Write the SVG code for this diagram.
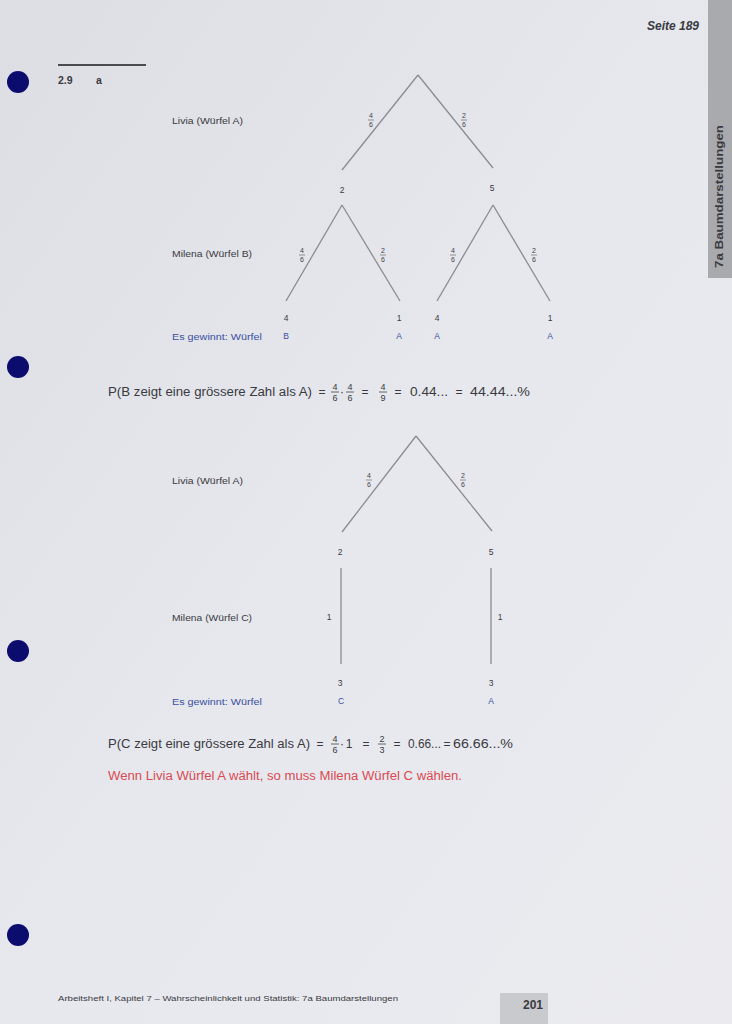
<svg xmlns="http://www.w3.org/2000/svg" width="732" height="1024" viewBox="0 0 732 1024">
<defs>
<linearGradient id="bg" x1="0" y1="0" x2="1" y2="1">
<stop offset="0" stop-color="#dcdee4"/>
<stop offset="0.5" stop-color="#e6e8ee"/>
<stop offset="1" stop-color="#ebebef"/>
</linearGradient>
<style>
.t{font-family:"Liberation Sans",Arial,sans-serif;fill:#3a3a40}
.lab{font-size:8.5px}
.num{font-size:8.5px;text-anchor:middle}
.fr{font-size:7px;text-anchor:middle;fill:#444}
.blue{fill:#3a4fa0}
.eq{font-size:12px;fill:#3a3a40}
.eqf{font-size:9px;text-anchor:middle;fill:#3a3a40}
.red{font-size:12px;fill:#d94a52}
.br{stroke:#8c8c90;stroke-width:1.3;fill:none}
.fb{stroke:#555;stroke-width:0.6}
.fbe{stroke:#444;stroke-width:0.8}
.dot{fill:#0b0c6e}
</style>
</defs>
<rect width="732" height="1024" fill="url(#bg)"/>
<rect x="708" y="0" width="24" height="278" fill="#a9aaad"/>
<rect x="500" y="993" width="48" height="31" fill="#c9cace"/>

<g id="holes">
<circle class="dot" cx="18" cy="82" r="11"/>
<circle class="dot" cx="18" cy="367" r="11"/>
<circle class="dot" cx="18" cy="651" r="11"/>
<circle class="dot" cx="18" cy="935" r="11"/>
</g>

<g id="header">
<text class="t" x="699" y="30" text-anchor="end" font-size="12" font-weight="bold" font-style="italic" fill="#222">Seite 189</text>
<text class="t" transform="translate(723,268) rotate(-90)" font-size="10.5" font-weight="bold" fill="#1e1e22" textLength="143" lengthAdjust="spacingAndGlyphs">7a Baumdarstellungen</text>
<line x1="58" y1="65" x2="146" y2="65" stroke="#1a1a1a" stroke-width="1.5"/>
<text class="t" x="58" y="84" font-size="10.5" font-weight="bold" fill="#1a1a1a">2.9</text>
<text class="t" x="96" y="84" font-size="10.5" font-weight="bold" fill="#1a1a1a">a</text>
</g>

<g id="connectors">
<line class="br" x1="418" y1="75" x2="342" y2="170"/>
<line class="br" x1="418" y1="75" x2="493" y2="168"/>
<line class="br" x1="342" y1="205" x2="286" y2="301"/>
<line class="br" x1="342" y1="205" x2="400" y2="301"/>
<line class="br" x1="493" y1="205" x2="437" y2="301"/>
<line class="br" x1="493" y1="205" x2="550" y2="301"/>
<line class="br" x1="416" y1="436" x2="342" y2="532"/>
<line class="br" x1="416" y1="436" x2="492" y2="531"/>
<line class="br" x1="341" y1="568" x2="341" y2="664"/>
<line class="br" x1="491" y1="568" x2="491" y2="664"/>
</g>

<g id="edge-labels">
<g><text class="t fr" x="371" y="118">4</text><line class="fb" x1="368" y1="120" x2="374" y2="120"/><text class="t fr" x="371" y="127">6</text></g>
<g><text class="t fr" x="464" y="118">2</text><line class="fb" x1="461" y1="120" x2="467" y2="120"/><text class="t fr" x="464" y="127">6</text></g>
<g><text class="t fr" x="302" y="253">4</text><line class="fb" x1="299" y1="255" x2="305" y2="255"/><text class="t fr" x="302" y="262">6</text></g>
<g><text class="t fr" x="383" y="253">2</text><line class="fb" x1="380" y1="255" x2="386" y2="255"/><text class="t fr" x="383" y="262">6</text></g>
<g><text class="t fr" x="453" y="253">4</text><line class="fb" x1="450" y1="255" x2="456" y2="255"/><text class="t fr" x="453" y="262">6</text></g>
<g><text class="t fr" x="534" y="253">2</text><line class="fb" x1="531" y1="255" x2="537" y2="255"/><text class="t fr" x="534" y="262">6</text></g>
<g><text class="t fr" x="369" y="478">4</text><line class="fb" x1="366" y1="480" x2="372" y2="480"/><text class="t fr" x="369" y="487">6</text></g>
<g><text class="t fr" x="463" y="478">2</text><line class="fb" x1="460" y1="480" x2="466" y2="480"/><text class="t fr" x="463" y="487">6</text></g>
<text class="t num" x="329" y="620">1</text>
<text class="t num" x="500" y="620">1</text>
</g>

<g id="tree1-labels">
<text class="t lab" x="172" y="124" textLength="71" lengthAdjust="spacingAndGlyphs">Livia (Würfel A)</text>
<text class="t lab" x="172" y="257" textLength="80" lengthAdjust="spacingAndGlyphs">Milena (Würfel B)</text>
<text class="t lab blue" x="172" y="340" textLength="90" lengthAdjust="spacingAndGlyphs">Es gewinnt:  Würfel</text>
</g>

<g id="n1-2"><text class="t num" x="342" y="193">2</text></g>
<g id="n1-5"><text class="t num" x="492" y="191">5</text></g>
<g id="n1-4a"><text class="t num" x="286" y="321">4</text><text class="t num blue" x="286" y="339">B</text></g>
<g id="n1-1a"><text class="t num" x="399" y="321">1</text><text class="t num blue" x="399" y="339">A</text></g>
<g id="n1-4b"><text class="t num" x="437" y="321">4</text><text class="t num blue" x="437" y="339">A</text></g>
<g id="n1-1b"><text class="t num" x="550" y="321">1</text><text class="t num blue" x="550" y="339">A</text></g>

<g id="eq1">
<text class="t eq" x="108" y="396" textLength="204" lengthAdjust="spacingAndGlyphs">P(B zeigt eine grössere Zahl als A)</text>
<text class="t eq" x="322" y="396" text-anchor="middle">=</text>
<text class="t eqf" x="335" y="390">4</text><line class="fbe" x1="331" y1="392" x2="339" y2="392"/><text class="t eqf" x="335" y="401">6</text>
<text class="t eq" x="342" y="396" text-anchor="middle">·</text>
<text class="t eqf" x="350" y="390">4</text><line class="fbe" x1="346" y1="392" x2="354" y2="392"/><text class="t eqf" x="350" y="401">6</text>
<text class="t eq" x="365" y="396" text-anchor="middle">=</text>
<text class="t eqf" x="383" y="390">4</text><line class="fbe" x1="379" y1="392" x2="387" y2="392"/><text class="t eqf" x="383" y="401">9</text>
<text class="t eq" x="398" y="396" text-anchor="middle">=</text>
<text class="t eq" x="410" y="396" textLength="38" lengthAdjust="spacingAndGlyphs">0.44...</text>
<text class="t eq" x="459" y="396" text-anchor="middle">=</text>
<text class="t eq" x="470" y="396" textLength="60" lengthAdjust="spacingAndGlyphs">44.44...%</text>
</g>

<g id="tree2-labels">
<text class="t lab" x="172" y="484" textLength="71" lengthAdjust="spacingAndGlyphs">Livia (Würfel A)</text>
<text class="t lab" x="172" y="621" textLength="80" lengthAdjust="spacingAndGlyphs">Milena (Würfel C)</text>
<text class="t lab blue" x="172" y="705" textLength="90" lengthAdjust="spacingAndGlyphs">Es gewinnt:  Würfel</text>
</g>

<g id="n2-2"><text class="t num" x="340" y="555">2</text></g>
<g id="n2-5"><text class="t num" x="491" y="555">5</text></g>
<g id="n2-3a"><text class="t num" x="340" y="686">3</text><text class="t num blue" x="341" y="704">C</text></g>
<g id="n2-3b"><text class="t num" x="491" y="686">3</text><text class="t num blue" x="491" y="704">A</text></g>

<g id="eq2">
<text class="t eq" x="108" y="748" textLength="202" lengthAdjust="spacingAndGlyphs">P(C zeigt eine grössere Zahl als A)</text>
<text class="t eq" x="320" y="748" text-anchor="middle">=</text>
<text class="t eqf" x="335" y="742">4</text><line class="fbe" x1="331" y1="744" x2="339" y2="744"/><text class="t eqf" x="335" y="753">6</text>
<text class="t eq" x="342" y="748" text-anchor="middle">·</text>
<text class="t eq" x="349" y="748" text-anchor="middle">1</text>
<text class="t eq" x="366" y="748" text-anchor="middle">=</text>
<text class="t eqf" x="382" y="742">2</text><line class="fbe" x1="378" y1="744" x2="386" y2="744"/><text class="t eqf" x="382" y="753">3</text>
<text class="t eq" x="397" y="748" text-anchor="middle">=</text>
<text class="t eq" x="408" y="748" textLength="33" lengthAdjust="spacingAndGlyphs">0.66...</text>
<text class="t eq" x="447" y="748" text-anchor="middle">=</text>
<text class="t eq" x="453" y="748" textLength="60" lengthAdjust="spacingAndGlyphs">66.66...%</text>
</g>

<g id="answer">
<text class="t red" x="108" y="780" textLength="354" lengthAdjust="spacingAndGlyphs">Wenn Livia Würfel A wählt, so muss Milena Würfel C wählen.</text>
</g>

<g id="footer">
<text class="t" x="58" y="1001" font-size="8" fill="#555" textLength="340" lengthAdjust="spacingAndGlyphs">Arbeitsheft I, Kapitel 7 – Wahrscheinlichkeit und Statistik: 7a Baumdarstellungen</text>
<text class="t" x="533" y="1009" font-size="12" font-weight="bold" fill="#1c2260" text-anchor="middle">201</text>
</g>
</svg>
